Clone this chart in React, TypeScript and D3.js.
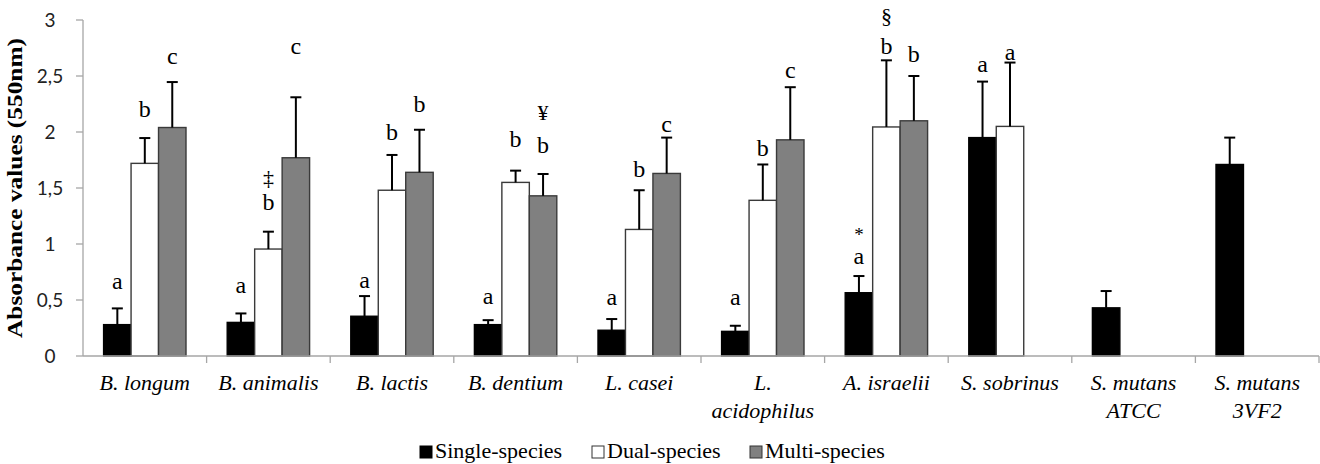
import React from "react";
import * as d3 from "d3";

const categories = ["B. longum", "B. animalis", "B. lactis", "B. dentium", "L. casei", "L. acidophilus", "A. israelii", "S. sobrinus", "S. mutans ATCC", "S. mutans 3VF2"];
const categoryLines = [["B. longum"], ["B. animalis"], ["B. lactis"], ["B. dentium"], ["L. casei"], ["L.", "acidophilus"], ["A. israelii"], ["S. sobrinus"], ["S. mutans", "ATCC"], ["S. mutans", "3VF2"]];
const seriesNames = ["Single-species", "Dual-species", "Multi-species"];

const singleValues = [0.28, 0.30, 0.355, 0.28, 0.23, 0.22, 0.565, 1.95, 0.43, 1.71];
const singleErrTop = [0.425, 0.38, 0.535, 0.32, 0.33, 0.27, 0.714, 2.45, 0.58, 1.95];
const dualValues = [1.72, 0.955, 1.48, 1.55, 1.13, 1.39, 2.045, 2.05, null, null];
const dualErrTop = [1.946, 1.11, 1.795, 1.655, 1.48, 1.71, 2.64, 2.62, null, null];
const multiValues = [2.04, 1.77, 1.64, 1.43, 1.63, 1.93, 2.10, null, null, null];
const multiErrTop = [2.446, 2.31, 2.02, 1.625, 1.95, 2.40, 2.50, null, null, null];

const singleLetters = ["a", "a", "a", "a", "a", "a", "a", "a", "", ""];
const dualLetters = ["b", "b", "b", "b", "b", "b", "b", "a", "", ""];
const multiLetters = ["c", "c", "b", "b", "c", "c", "b", "", "", ""];
// annotation heights (in absorbance units) of the letter labels
const singleLetterAt = [0.661, 0.625, 0.67, 0.527, 0.518, 0.518, 0.884, 2.598, 0, 0];
const dualLetterAt = [2.196, 1.366, 1.99, 1.93, 1.66, 1.85, 2.76, 2.71, 0, 0];
const multiLetterAt = [2.67, 2.76, 2.24, 1.88, 2.06, 2.545, 2.69, 0, 0, 0];

const symbolTexts = ["\u2021", "\u00A5", "*", "\u00A7"];
const symbolCategory = [1, 3, 6, 6];
const symbolSeries = [1, 2, 0, 1];
const symbolAt = [1.60, 2.18, 1.09, 3.04];

const yTicks = [0, 0.5, 1, 1.5, 2, 2.5, 3];
const yTickLabels = ["0", "0,5", "1", "1,5", "2", "2,5", "3"];

const fills = ["#000000", "#ffffff", "#808080"];
const strokes = ["#000000", "#3a3a3a", "#3a3a3a"];

export default function App() {
  const W = 1320, H = 464;
  const x0 = d3.scaleBand<string>().domain(categories).range([83, 1319]).padding(0);
  const x1 = d3.scaleBand<string>().domain(seriesNames).range([0, x0.bandwidth()]).paddingInner(0).paddingOuter(0.75);
  const y = d3.scaleLinear().domain([0, 3]).range([356, 20]);
  const values = [singleValues, dualValues, multiValues];
  const errs = [singleErrTop, dualErrTop, multiErrTop];
  const letters = [singleLetters, dualLetters, multiLetters];
  const letterAt = [singleLetterAt, dualLetterAt, multiLetterAt];
  const serif = "'Liberation Serif', 'Times New Roman', serif";
  const bw = x1.bandwidth();
  const axisColor = "#a6a6a6";

  const barCenter = (ci: number, si: number) => (x0(categories[ci]) as number) + (x1(seriesNames[si]) as number) + bw / 2;

  const legendX = [420, 592, 750];

  return (
    <svg width={W} height={H} style={{ position: "absolute", left: 0, top: 0, background: "#fff" }} xmlns="http://www.w3.org/2000/svg">
      {/* y axis */}
      <line x1={83} x2={83} y1={y(3)} y2={y(0)} stroke={axisColor} strokeWidth={1.3} />
      {yTicks.map((t, i) => (
        <g key={"yt" + i}>
          <line x1={76} x2={83} y1={y(t)} y2={y(t)} stroke={axisColor} strokeWidth={1.3} />
          <text x={50} y={y(t)} dy="0.36em" textAnchor="middle" fontFamily="Lato, 'Open Sans', sans-serif" fontSize={19} fill="#222">{yTickLabels[i]}</text>
        </g>
      ))}
      <text transform={`translate(22,${(y(0) + y(3)) / 2}) rotate(-90)`} textAnchor="middle" fontFamily={serif} fontWeight="bold" fontSize={21} textLength={300} lengthAdjust="spacingAndGlyphs" fill="#000">Absorbance values (550nm)</text>

      {/* bars */}
      {values.map((vals, si) => vals.map((v, ci) => {
        if (v == null) return null;
        const xl = (x0(categories[ci]) as number) + (x1(seriesNames[si]) as number);
        return <rect key={`b${si}-${ci}`} x={xl} y={y(v)} width={bw} height={y(0) - y(v)} fill={fills[si]} stroke={strokes[si]} strokeWidth={1.4} />;
      }))}
      {/* error bars */}
      {errs.map((es, si) => es.map((e, ci) => {
        const v = values[si][ci];
        if (e == null || v == null) return null;
        const cx = barCenter(ci, si);
        return (
          <g key={`e${si}-${ci}`} stroke="#000" strokeWidth={2}>
            <line x1={cx} x2={cx} y1={y(v)} y2={y(e)} />
            <line x1={cx - 5.5} x2={cx + 5.5} y1={y(e)} y2={y(e)} />
          </g>
        );
      }))}

      {/* x axis */}
      <line x1={83} x2={1319} y1={y(0)} y2={y(0)} stroke={axisColor} strokeWidth={1.3} />
      {categories.map((c, i) => (
        <line key={"xt" + i} x1={(x0(c) as number) + x0.bandwidth()} x2={(x0(c) as number) + x0.bandwidth()} y1={y(0)} y2={y(0) + 7} stroke={axisColor} strokeWidth={1.3} />
      ))}
      {categories.map((c, i) => (
        <text key={"xl" + i} textAnchor="middle" fontFamily={serif} fontStyle="italic" fontSize={22} fill="#000">
          {categoryLines[i].map((ln, k) => (
            <tspan key={k} x={(x0(c) as number) + x0.bandwidth() / 2} y={390 + k * 28}>{ln}</tspan>
          ))}
        </text>
      ))}

      {/* significance letters */}
      {letters.map((ls, si) => ls.map((l, ci) => l ? (
        <text key={`l${si}-${ci}`} x={barCenter(ci, si)} y={y(letterAt[si][ci])} dy="0.3em" textAnchor="middle" fontFamily={serif} fontSize={24} fill="#000">{l}</text>
      ) : null))}
      {symbolTexts.map((s, i) => (
        <text key={"s" + i} x={barCenter(symbolCategory[i], symbolSeries[i])} y={y(symbolAt[i])} dy="0.35em" textAnchor="middle" fontFamily={serif} fontSize={i === 2 ? 19 : 22} fill="#000">{s}</text>
      ))}

      {/* legend */}
      {seriesNames.map((s, i) => (
        <g key={"lg" + i}>
          <rect x={legendX[i]} y={446} width={12} height={12} fill={fills[i]} stroke={i === 0 ? "#000" : "#333"} strokeWidth={1} />
          <text x={legendX[i] + 15} y={458} fontFamily={serif} fontSize={22} fill="#000">{s}</text>
        </g>
      ))}
    </svg>
  );
}
